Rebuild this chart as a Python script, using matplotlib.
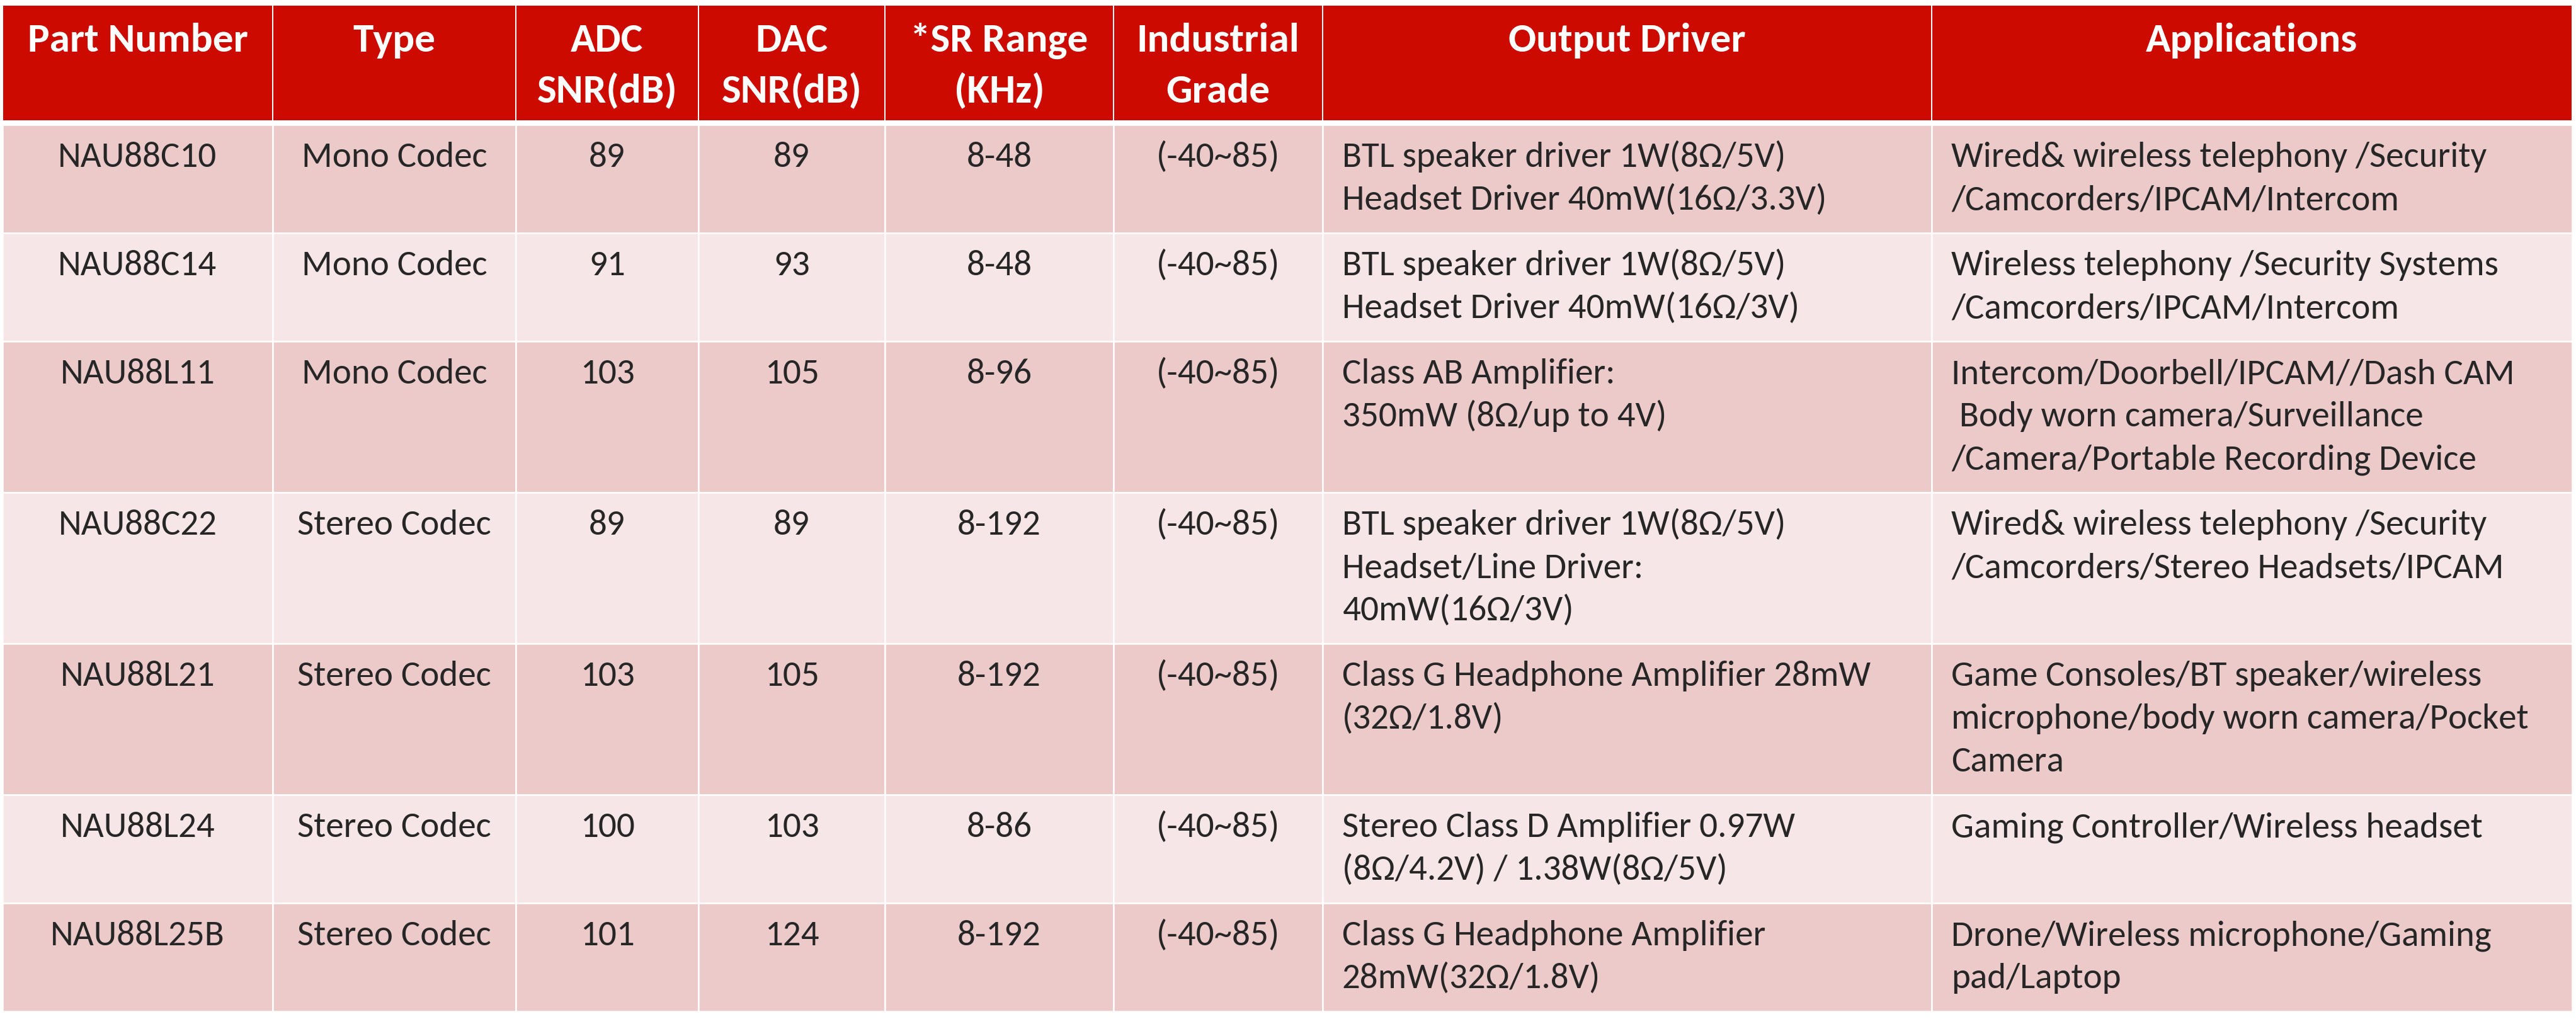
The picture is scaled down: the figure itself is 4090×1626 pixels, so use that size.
import matplotlib.pyplot as plt
from matplotlib.patches import Rectangle

plt.rcParams['font.family'] = ['Carlito', 'DejaVu Sans']

# table contents
headers = ["Part Number", "Type", "ADC\nSNR(dB)", "DAC\nSNR(dB)", "*SR Range\n(KHz)",
           "Industrial\nGrade", "Output Driver", "Applications"]
parts = ["NAU88C10", "NAU88C14", "NAU88L11", "NAU88C22", "NAU88L21", "NAU88L24", "NAU88L25B"]
types = ["Mono Codec", "Mono Codec", "Mono Codec", "Stereo Codec", "Stereo Codec",
         "Stereo Codec", "Stereo Codec"]
adc_snr = [89, 91, 103, 89, 103, 100, 101]
dac_snr = [89, 93, 105, 89, 105, 103, 124]
sr_range = ["8-48", "8-48", "8-96", "8-192", "8-192", "8-86", "8-192"]
grade = ["(-40~85)"] * 7
output_driver = [
    "BTL speaker driver 1W(8Ω/5V)\nHeadset Driver 40mW(16Ω/3.3V)",
    "BTL speaker driver 1W(8Ω/5V)\nHeadset Driver 40mW(16Ω/3V)",
    "Class AB Amplifier:\n350mW (8Ω/up to 4V)",
    "BTL speaker driver 1W(8Ω/5V)\nHeadset/Line Driver:\n40mW(16Ω/3V)",
    "Class G Headphone Amplifier 28mW\n(32Ω/1.8V)",
    "Stereo Class D Amplifier 0.97W\n(8Ω/4.2V) / 1.38W(8Ω/5V)",
    "Class G Headphone Amplifier\n28mW(32Ω/1.8V)",
]
applications = [
    "Wired& wireless telephony /Security\n/Camcorders/IPCAM/Intercom",
    "Wireless telephony /Security Systems\n/Camcorders/IPCAM/Intercom",
    "Intercom/Doorbell/IPCAM//Dash CAM\n Body worn camera/Surveillance\n/Camera/Portable Recording Device",
    "Wired& wireless telephony /Security\n/Camcorders/Stereo Headsets/IPCAM",
    "Game Consoles/BT speaker/wireless\nmicrophone/body worn camera/Pocket\nCamera",
    "Gaming Controller/Wireless headset",
    "Drone/Wireless microphone/Gaming\npad/Laptop",
]

rows = []
for i in range(len(parts)):
    rows.append([parts[i], types[i], str(adc_snr[i]), str(dac_snr[i]), sr_range[i],
                 grade[i], output_driver[i], applications[i]])

# layout (pixels)
col_edges = [4, 433, 819, 1109, 1405, 1768, 2100, 3067, 4084]
left_cols = [6, 7]
header_top, header_bot = 8, 192
body_top = 198
line_h = 68
red = "#CC0A00"
row_colors = ["#EDCACA", "#F6E6E7"]
text_color = "#262626"

fig = plt.figure(figsize=(40.9, 16.26), dpi=100)
ax = fig.add_axes([0, 0, 1, 1])
ax.set_xlim(0, 4090)
ax.set_ylim(1626, 0)
ax.axis('off')

# header
for c in range(len(headers)):
    x0, x1 = col_edges[c], col_edges[c + 1]
    ax.add_patch(Rectangle((x0, header_top), x1 - x0, header_bot - header_top,
                           facecolor=red, edgecolor='white', linewidth=1.4))
    for k, line in enumerate(headers[c].split("\n")):
        ax.text((x0 + x1) / 2, header_top + 74 + k * 81, line, ha='center', va='baseline',
                color='white', fontsize=47, fontweight='bold')

# body
y = body_top
for r, row in enumerate(rows):
    n = max(len(cell.split("\n")) for cell in row)
    h = 36 + line_h * n
    for c, cell in enumerate(row):
        x0, x1 = col_edges[c], col_edges[c + 1]
        ax.add_patch(Rectangle((x0, y), x1 - x0, h, facecolor=row_colors[r % 2],
                               edgecolor='white', linewidth=1.8))
        for k, line in enumerate(cell.split("\n")):
            if c in left_cols:
                ax.text(x0 + 31, y + 67 + k * line_h, line, ha='left', va='baseline',
                        color=text_color, fontsize=41)
            else:
                ax.text((x0 + x1) / 2, y + 67 + k * line_h, line, ha='center', va='baseline',
                        color=text_color, fontsize=41)
    y += h

fig.savefig("out.png", dpi=100, facecolor='white')
